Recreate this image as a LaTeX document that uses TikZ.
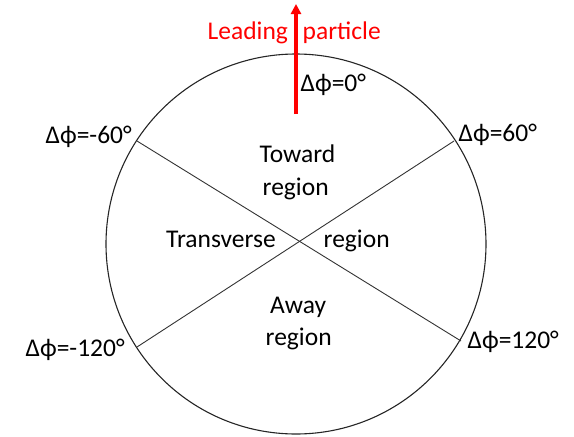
\documentclass[tikz,border=0pt]{standalone}
\usepackage{fontspec}
\setmainfont{Carlito}
\usetikzlibrary{arrows.meta}
\definecolor{lred}{RGB}{255,0,0}
\begin{document}
\begin{tikzpicture}[x=1pt,y=-1pt,
  lbl/.style={inner sep=0pt,anchor=base west,font=\fontsize{25.5}{30}\selectfont},
  redlbl/.style={lbl,text=lred},
  ring/.style={draw=black!85,line width=1.1pt},
  divider/.style={draw=black!80,line width=0.9pt},
  leadarrow/.style={draw=lred,line width=4.5pt,-{Triangle[width=10pt,length=10pt]}}]
\useasboundingbox (0,0) rectangle (574,437);
\coordinate (c) at (296,244);
\draw[ring] (c) circle[radius=190];
\coordinate (m60) at (137,141);
\coordinate (p120) at (461,341);
\coordinate (m120) at (137,347);
\coordinate (p60) at (454,141);
\draw[divider] (m60) -- (p120);
\draw[divider] (m120) -- (p60);
\coordinate (abot) at (296,114);
\coordinate (atop) at (296,4);
\draw[leadarrow] (abot) -- (atop);
\node[redlbl] (lead) at (207.5,39.5) {Leading};
\node[redlbl] (part) at (302.5,39.5) {particle};
\node[lbl] (d0) at (300.5,91.5) {Δϕ=0°};
\node[lbl] (dm60) at (45.5,143.3) {Δϕ=-60°};
\node[lbl] (dp60) at (458.5,141.7) {Δϕ=60°};
\node[lbl] (dm120) at (25.5,356.7) {Δϕ=-120°};
\node[lbl] (dp120) at (467.5,348.3) {Δϕ=120°};
\node[lbl] (tow1) at (259.5,162.3) {Toward};
\node[lbl] (tow2) at (262.5,195) {region};
\node[lbl] (tra) at (166,247.3) {Transverse};
\node[lbl] (trb) at (323.5,247.3) {region};
\node[lbl] (awa1) at (270,313.3) {Away};
\node[lbl] (awa2) at (265.5,345) {region};
\end{tikzpicture}
\end{document}
